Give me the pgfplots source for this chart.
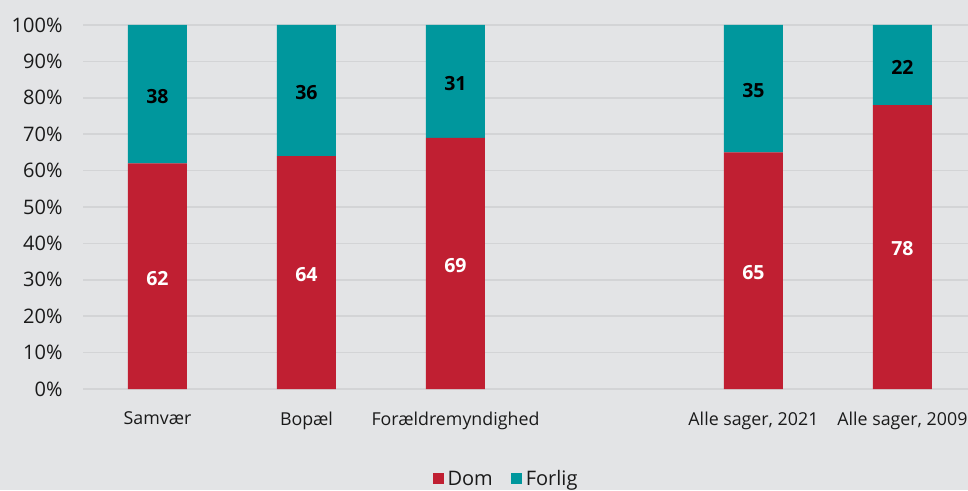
\documentclass[border=0pt]{standalone}
\usepackage{pgfplots}
\usepackage{pgfplotstable}
\pgfplotsset{compat=1.18}
\usepackage{fontspec}
\setmainfont{Open Sans}
\definecolor{bg}{HTML}{E3E4E6}
\definecolor{grid}{HTML}{D3D4D6}
\definecolor{domred}{HTML}{C01F32}
\definecolor{forligteal}{HTML}{00979D}
\definecolor{txt}{HTML}{1A1A1A}
\pgfplotstableread{
x dom forlig
0 62 38
1 64 36
2 69 31
4 65 35
5 78 22
}\data
\begin{document}
\begin{tikzpicture}
\path[use as bounding box, fill=bg] (0,0) rectangle (968pt,490pt);
\begin{axis}[
  at={(83pt,101pt)}, anchor=south west,
  scale only axis, width=885pt, height=364pt,
  ybar stacked, bar width=59pt,
  xmin=-0.5, xmax=5.44, ymin=0, ymax=100,
  axis line style={draw=none},
  major tick length=0pt,
  /pgf/number format/assume math mode=true,
  ytick={0,10,...,100},
  yticklabels={0\%,10\%,20\%,30\%,40\%,50\%,60\%,70\%,80\%,90\%,100\%},
  xtick={0,1,2,4,5},
  xticklabels={Samvær,Bopæl,Forældremyndighed,{Alle sager, 2021},{Alle sager, 2009}},
  yticklabel style={font=\fontsize{20}{24}\selectfont, text=txt, xshift=-17pt},
  xticklabel style={font=\fontsize{17.8}{21}\selectfont, text=txt, yshift=-19pt},
  ymajorgrids, grid style={draw=grid, line width=1.5pt},
  legend style={at={(0.478,-0.247)}, anchor=center, draw=none, fill=none,
    legend columns=2, font=\fontsize{20}{24}\selectfont, text=txt,
    /tikz/every odd column/.append style={column sep=2pt},
    /tikz/every even column/.append style={column sep=16pt}},
  legend image code/.code={\fill[#1] (0pt,-5.5pt) rectangle (11pt,5.5pt);},
  nodes near coords,
  every node near coord/.append style={anchor=center, font=\fontsize{19.5}{22}\selectfont\bfseries, yshift=-2pt},
]
\addplot[fill=domred, draw=none,
  every node near coord/.append style={text=white}]
  table[x=x, y=dom] {\data};
\addlegendentry{Dom}
\addplot[fill=forligteal, draw=none,
  every node near coord/.append style={text=black}]
  table[x=x, y=forlig] {\data};
\addlegendentry{Forlig}
\end{axis}
\end{tikzpicture}
\end{document}
